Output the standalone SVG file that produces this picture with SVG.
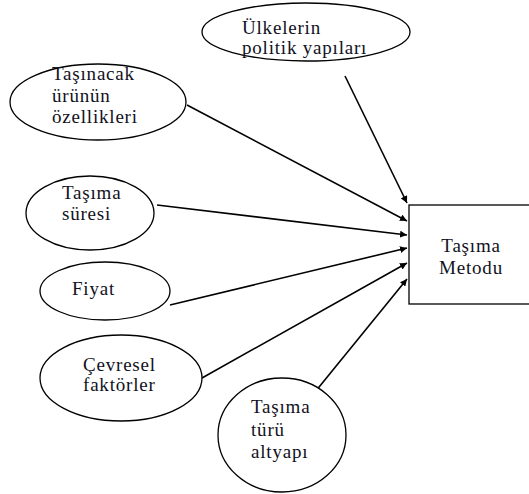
<svg xmlns="http://www.w3.org/2000/svg" width="529" height="494" viewBox="0 0 529 494">
  <style>
    .node { fill: #ffffff; stroke: #000000; stroke-width: 1.3; }
    .label { font-family: 'Liberation Serif', 'Times New Roman', serif; font-size: 19px; fill: #111122; letter-spacing: 0.8px; }
    .edge { stroke: #000000; stroke-width: 1.6; fill: none; marker-end: url(#arrow); }
  </style>
  <defs>
    <marker id="arrow" viewBox="0 0 10 10" refX="10" refY="5" markerWidth="7" markerHeight="7" markerUnits="userSpaceOnUse" orient="auto">
      <path d="M0,0 L10,5 L0,10 z" fill="#000000"/>
    </marker>
  </defs>
  <rect width="529" height="494" fill="#ffffff"/>

  <g id="connectors">
    <line class="edge" x1="345" y1="76" x2="407" y2="203"/>
    <line class="edge" x1="187" y1="105" x2="407" y2="221"/>
    <line class="edge" x1="157" y1="205" x2="407" y2="235"/>
    <line class="edge" x1="170" y1="305" x2="407" y2="248"/>
    <line class="edge" x1="202" y1="378" x2="407" y2="263"/>
    <line class="edge" x1="315" y1="392" x2="407" y2="279"/>
  </g>

  <g id="tasima-metodu">
    <rect class="node" x="409" y="205" width="122" height="99"/>
    <text class="label" x="471" y="252" text-anchor="middle">Taşıma</text>
    <text class="label" x="471" y="274" text-anchor="middle">Metodu</text>
  </g>

  <g id="ulkelerin-politik-yapilari">
    <ellipse class="node" cx="306" cy="32" rx="104" ry="29"/>
    <text class="label" x="242" y="34">Ülkelerin</text>
    <text class="label" x="242" y="54">politik yapıları</text>
  </g>

  <g id="tasinacak-urunun-ozellikleri">
    <ellipse class="node" cx="98" cy="102" rx="88" ry="38"/>
    <text class="label" x="52" y="80">Taşınacak</text>
    <text class="label" x="52" y="102">ürünün</text>
    <text class="label" x="52" y="123">özellikleri</text>
  </g>

  <g id="tasima-suresi">
    <ellipse class="node" cx="90" cy="213" rx="64" ry="37"/>
    <text class="label" x="62" y="199">Taşıma</text>
    <text class="label" x="62" y="220">süresi</text>
  </g>

  <g id="fiyat">
    <ellipse class="node" cx="105" cy="291" rx="65" ry="29"/>
    <text class="label" x="72" y="295">Fiyat</text>
  </g>

  <g id="cevresel-faktorler">
    <ellipse class="node" cx="121" cy="378" rx="81" ry="43"/>
    <text class="label" x="83" y="371">Çevresel</text>
    <text class="label" x="83" y="391">faktörler</text>
  </g>

  <g id="tasima-turu-altyapi">
    <ellipse class="node" cx="282" cy="435" rx="64" ry="57"/>
    <text class="label" x="251" y="413">Taşıma</text>
    <text class="label" x="251" y="436">türü</text>
    <text class="label" x="251" y="458">altyapı</text>
  </g>
</svg>
